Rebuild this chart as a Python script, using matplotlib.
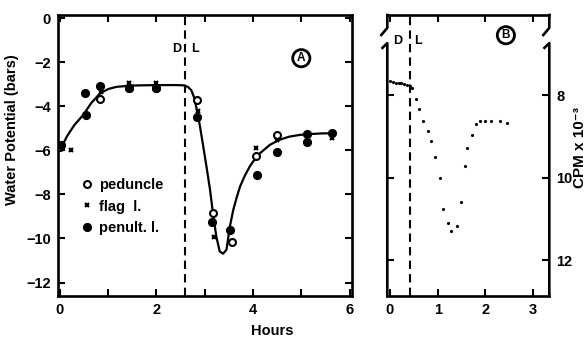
import matplotlib
matplotlib.use('Agg')
import matplotlib.pyplot as plt

plt.rcParams['font.family'] = ['Liberation Sans', 'DejaVu Sans']
plt.rcParams['font.weight'] = 'bold'

# Panel A: water potential (bars) against hours
ped_t = [0.0, 0.83, 1.43, 2.0, 2.83, 3.17, 3.57, 4.07, 4.49]
ped_v = [-5.85, -3.69, -3.15, -3.15, -3.72, -8.86, -10.18, -6.26, -5.31]
flag_t = [0.22, 0.85, 1.43, 2.0, 2.85, 3.19, 4.07, 4.49, 5.64]
flag_v = [-5.99, -3.34, -2.93, -2.93, -4.2, -9.92, -5.91, -5.54, -5.46]
pen_t = [0.02, 0.52, 0.54, 0.83, 1.43, 2.0, 2.83, 3.16, 3.53, 4.09, 4.49, 5.12, 5.12, 5.64]
pen_v = [-5.76, -3.42, -4.40, -3.09, -3.19, -3.19, -4.47, -9.23, -9.6, -7.12, -6.09, -5.26, -5.64, -5.23]

# hand-fitted curve
fit_t = [0, 0.15, 0.3, 0.48, 0.65, 0.83, 1.0, 1.17, 1.5, 2.0, 2.4, 2.55, 2.65, 2.72,
         2.78, 2.83, 2.9, 2.97, 3.04, 3.11, 3.17, 3.24, 3.31, 3.38, 3.45, 3.48, 3.52,
         3.59, 3.66, 3.73, 3.83, 3.93, 4.03, 4.14, 4.35, 4.55, 4.75, 4.97, 5.2, 5.45, 5.65]
fit_v = [-5.99, -5.35, -4.85, -4.40, -3.85, -3.42, -3.22, -3.12, -3.06, -3.04, -3.04,
         -3.05, -3.12, -3.27, -3.6, -4.1, -4.9, -5.84, -6.8, -7.8, -8.86, -9.92, -10.59,
         -10.69, -10.51, -10.06, -9.46, -8.71, -8.15, -7.65, -7.15, -6.74, -6.42, -6.14,
         -5.75, -5.52, -5.38, -5.3, -5.26, -5.23, -5.23]

# Panel B: CPM x 10^-3 against hours
cpm_t = [0.0, 0.06, 0.12, 0.18, 0.24, 0.30, 0.36, 0.42, 0.47, 0.54, 0.61, 0.70, 0.79,
         0.86, 0.94, 1.05, 1.12, 1.21, 1.28, 1.40, 1.48, 1.57, 1.62, 1.72, 1.80, 1.88,
         1.99, 2.11, 2.30, 2.46]
cpm_v = [7.67, 7.68, 7.70, 7.71, 7.72, 7.74, 7.76, 7.79, 7.82, 8.09, 8.34, 8.62, 8.87,
         9.11, 9.51, 10.0, 10.75, 11.11, 11.29, 11.18, 10.59, 9.71, 9.28, 8.97, 8.70,
         8.64, 8.62, 8.63, 8.63, 8.67]

dark_a = 2.59
dark_b = 0.42

fig = plt.figure(figsize=(5.87, 3.37), dpi=100)
axA = fig.add_axes([58/587, 41/337, 294/587, 281/337])
axB = fig.add_axes([387.3/587, 41/337, 162/587, 281/337])

for ax in (axA, axB):
    for s in ax.spines.values():
        s.set_linewidth(1.9)
    ax.tick_params(direction='in', length=5, width=1.5, labelsize=10.5, pad=5,
                   top=True, right=True)

# --- panel A ---
axA.plot(fit_t, fit_v, color='black', lw=1.6, zorder=2)
axA.plot(ped_t, ped_v, 'o', ms=5.0, mfc='white', mec='black', mew=1.5, label='peduncle', zorder=3)
axA.plot(flag_t, flag_v, 'x', ms=3.5, mec='black', mew=1.5, label='flag  l.', zorder=4)
axA.plot(pen_t, pen_v, 'o', ms=5.6, color='black', label='penult. l.', zorder=5)
axA.axvline(dark_a, color='black', ls=(0, (4, 2.5)), lw=1.5)

axA.set_xlim(-0.04, 6.05)
axA.set_ylim(-12.61, 0.14)
axA.set_xticks(range(7))
axA.set_xticklabels(['0', '', '2', '', '4', '', '6'])
axA.set_yticks(range(0, -13, -2))
axA.text(2.42, -1.4, 'D', fontsize=9, ha='center', va='center')
axA.text(2.8, -1.4, 'L', fontsize=9, ha='center', va='center')
axA.text(5.0, -1.82, 'A', fontsize=8.5, ha='center', va='center',
         bbox=dict(boxstyle='circle,pad=0.22', fc='white', ec='black', lw=2.0))
axA.legend(loc='upper left', bbox_to_anchor=(0.06, 0.445), frameon=False,
           handlelength=0.6, handletextpad=0.5, labelspacing=0.5, borderpad=0,
           prop={'size': 10.5, 'weight': 'bold'})

# --- panel B ---
axB.plot(cpm_t, cpm_v, '.', ms=2.5, color='black')
axB.axvline(dark_b, color='black', ls=(0, (4, 2.5)), lw=1.5)
axB.set_xlim(-0.056, 3.34)
axB.set_ylim(12.87, 6.06)
axB.set_xticks([0, 1, 2, 3])
axB.set_yticks([8, 10, 12])
axB.tick_params(axis='y', labelleft=False, labelright=True)
axB.text(0.17, 6.7, 'D', fontsize=9, ha='center', va='center')
axB.text(0.58, 6.7, 'L', fontsize=9, ha='center', va='center')
axB.text(2.43, 6.55, 'B', fontsize=8.5, ha='center', va='center',
         bbox=dict(boxstyle='circle,pad=0.22', fc='white', ec='black', lw=2.0))

# broken side axes on panel B
axB.spines['left'].set_visible(False)
axB.spines['right'].set_visible(False)
for xs in (0, 1):
    axB.plot([xs, xs, xs - 0.037], [1.0, 0.954, 0.929], color='black', lw=1.9,
             transform=axB.transAxes, clip_on=False)
    axB.plot([xs - 0.03, xs, xs], [0.883, 0.900, 0.0], color='black', lw=1.9,
             transform=axB.transAxes, clip_on=False)

fig.text(12/587, 1 - 130/337, 'Water Potential (bars)', rotation=90, fontsize=10.5,
         ha='center', va='center')
fig.text(272/587, 1 - 331/337, 'Hours', fontsize=10.5, ha='center', va='center')
fig.text(580/587, 1 - 148/337, 'CPM x 10\u207b\u00b3', rotation=90, fontsize=11,
         ha='center', va='center')

fig.savefig('out.png', dpi=100)
